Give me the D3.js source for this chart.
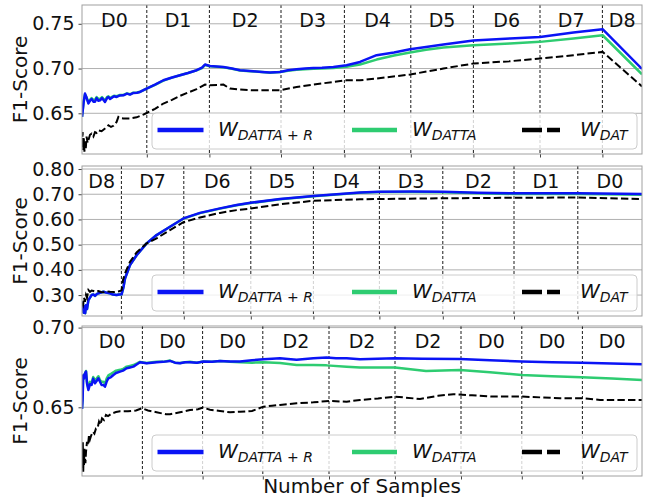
<!DOCTYPE html>
<html>
<head>
<meta charset="utf-8">
<script src="https://cdn.jsdelivr.net/npm/d3@7"></script>
<style>
  body { margin: 0; background: #fff; }
  svg text { font-family: "DejaVu Sans", sans-serif; }
</style>
</head>
<body>
<script>
// ---- data (x = number of samples, y = F1-score) ----
var p1Bounds = [324, 637, 995, 1312, 1644, 1957, 2290, 2602];
var p1Labels = ["D0", "D1", "D2", "D3", "D4", "D5", "D6", "D7", "D8"];
var p1Ticks = [0.65, 0.70, 0.75];
var p1Blue = [[0,0.646],[8,0.662],[15,0.672],[22,0.668],[32,0.661],[40,0.664],[48,0.666],[57,0.663],[65,0.663],[73,0.667],[82,0.664],[90,0.6645],[100,0.667],[115,0.6627],[125,0.667],[132,0.6682],[140,0.666],[148,0.6672],[160,0.669],[173,0.6682],[190,0.670],[207,0.6701],[225,0.672],[240,0.6709],[257,0.6727],[275,0.673],[290,0.6738],[305,0.6755],[323,0.6776],[365,0.682],[407,0.6869],[450,0.690],[490,0.6925],[530,0.695],[573,0.6981],[600,0.701],[615,0.7045],[640,0.7029],[707,0.7018],[750,0.700],[790,0.698],[857,0.697],[900,0.6962],[940,0.6955],[990,0.6962],[1030,0.698],[1073,0.6992],[1115,0.700],[1157,0.7007],[1200,0.701],[1257,0.7018],[1323,0.7037],[1390,0.7074],[1473,0.7149],[1560,0.718],[1640,0.7216],[1720,0.724],[1807,0.7268],[1957,0.7313],[2140,0.7336],[2290,0.7353],[2457,0.7403],[2603,0.7440],[2800,0.6995]];
var p1Green = [[0,0.646],[8,0.663],[15,0.671],[22,0.668],[32,0.662],[40,0.665],[48,0.667],[57,0.665],[65,0.665],[73,0.668],[82,0.666],[90,0.666],[100,0.668],[115,0.664],[125,0.668],[132,0.669],[140,0.667],[148,0.668],[160,0.6695],[173,0.669],[190,0.6705],[207,0.6705],[225,0.6722],[240,0.6712],[257,0.673],[275,0.6732],[290,0.674],[305,0.6755],[323,0.6775],[365,0.6818],[407,0.6865],[450,0.6898],[490,0.6925],[530,0.695],[573,0.698],[600,0.7005],[615,0.704],[640,0.7025],[707,0.7015],[750,0.6998],[790,0.6978],[857,0.6968],[900,0.696],[940,0.6952],[990,0.696],[1030,0.6975],[1073,0.6985],[1115,0.6993],[1157,0.6998],[1200,0.700],[1257,0.7005],[1323,0.702],[1390,0.7045],[1473,0.710],[1560,0.7145],[1640,0.7179],[1720,0.721],[1807,0.7235],[1957,0.726],[2140,0.728],[2290,0.7298],[2457,0.7335],[2603,0.7372],[2800,0.6935]];
var p1Black = [[0,0.612],[3,0.629],[6,0.609],[9,0.622],[12,0.607],[15,0.618],[19,0.611],[23,0.624],[28,0.617],[32,0.620],[40,0.626],[48,0.6273],[57,0.624],[65,0.629],[73,0.628],[82,0.631],[98,0.630],[115,0.6329],[125,0.635],[132,0.6366],[145,0.6347],[157,0.636],[173,0.6403],[182,0.6459],[195,0.6445],[207,0.6441],[240,0.6441],[273,0.6455],[307,0.6485],[323,0.6503],[365,0.655],[407,0.6609],[450,0.665],[490,0.6694],[530,0.6732],[573,0.6769],[615,0.6821],[640,0.6813],[707,0.6821],[740,0.6776],[790,0.6765],[857,0.6757],[940,0.6757],[990,0.6757],[1073,0.6794],[1157,0.6821],[1257,0.685],[1323,0.6869],[1390,0.6869],[1473,0.6888],[1640,0.6933],[1807,0.700],[1957,0.7056],[2140,0.7082],[2290,0.7112],[2457,0.7149],[2603,0.7186],[2800,0.680]];

var p2Bounds = [197, 509, 844, 1157, 1487, 1804, 2160, 2479];
var p2Labels = ["D8", "D7", "D6", "D5", "D4", "D3", "D2", "D1", "D0"];
var p2Ticks = [0.30, 0.40, 0.50, 0.60, 0.70, 0.80];
var p2Blue = [[0,0.24],[4,0.27],[8,0.23],[12,0.255],[16,0.228],[20,0.26],[25,0.245],[32,0.28],[40,0.29],[48,0.30],[57,0.302],[65,0.297],[75,0.305],[82,0.307],[95,0.31],[107,0.313],[120,0.31],[140,0.3067],[155,0.302],[173,0.300],[185,0.302],[198,0.303],[207,0.33],[215,0.366],[240,0.419],[273,0.458],[323,0.505],[373,0.538],[440,0.571],[507,0.604],[590,0.626],[690,0.644],[773,0.657],[843,0.666],[990,0.681],[1157,0.693],[1390,0.707],[1487,0.710],[1650,0.711],[1804,0.710],[1980,0.706],[2160,0.7035],[2320,0.704],[2479,0.704],[2800,0.701]];
var p2Green = [[0,0.24],[4,0.27],[8,0.23],[12,0.255],[16,0.228],[20,0.26],[25,0.245],[32,0.28],[40,0.29],[48,0.30],[57,0.302],[65,0.297],[75,0.305],[82,0.307],[95,0.31],[107,0.313],[120,0.31],[140,0.3067],[155,0.302],[173,0.300],[185,0.302],[198,0.303],[207,0.33],[215,0.366],[240,0.419],[273,0.458],[323,0.505],[373,0.538],[440,0.571],[507,0.603],[590,0.625],[690,0.643],[773,0.656],[843,0.665],[990,0.680],[1157,0.692],[1390,0.706],[1487,0.709],[1650,0.709],[1804,0.708],[1980,0.704],[2160,0.701],[2320,0.701],[2479,0.701],[2800,0.698]];
var p2Black = [[0,0.27],[5,0.26],[10,0.29],[15,0.273],[20,0.30],[25,0.29],[32,0.32],[40,0.313],[48,0.318],[57,0.316],[65,0.313],[82,0.316],[95,0.312],[107,0.311],[125,0.315],[140,0.313],[160,0.312],[173,0.313],[190,0.316],[198,0.320],[205,0.36],[215,0.386],[240,0.432],[273,0.469],[323,0.505],[373,0.525],[440,0.558],[507,0.589],[590,0.608],[690,0.626],[773,0.637],[843,0.643],[990,0.66],[1157,0.674],[1390,0.680],[1487,0.681],[1804,0.684],[2160,0.686],[2479,0.687],[2800,0.681]];

var p3Bounds = [302, 603, 904, 1235, 1565, 1895, 2199, 2502];
var p3Labels = ["D0", "D0", "D0", "D2", "D2", "D2", "D0", "D0", "D0"];
var p3Ticks = [0.65, 0.70];
var p3Blue = [[0,0.649],[3,0.655],[6,0.670],[10,0.6682],[14,0.671],[20,0.6724],[25,0.665],[32,0.6609],[40,0.6645],[48,0.664],[56,0.668],[65,0.6651],[73,0.6665],[82,0.6682],[90,0.666],[98,0.664],[107,0.664],[115,0.6629],[123,0.666],[132,0.6682],[145,0.669],[157,0.6703],[170,0.6715],[190,0.6724],[205,0.673],[223,0.6745],[240,0.675],[257,0.6755],[275,0.677],[290,0.6783],[323,0.6776],[350,0.678],[373,0.6783],[405,0.6785],[440,0.6791],[465,0.678],[490,0.6776],[515,0.6783],[540,0.6783],[575,0.678],[607,0.6787],[650,0.6785],[690,0.6791],[740,0.6787],[790,0.6787],[850,0.6795],[907,0.6801],[950,0.6805],[990,0.6808],[1030,0.6803],[1073,0.6798],[1115,0.6803],[1157,0.6808],[1223,0.6812],[1270,0.6808],[1323,0.6808],[1390,0.6801],[1565,0.6808],[1700,0.6805],[1890,0.6803],[2040,0.6795],[2198,0.6787],[2350,0.6783],[2498,0.678],[2650,0.6775],[2800,0.677]];
var p3Green = [[0,0.649],[3,0.656],[6,0.670],[10,0.668],[14,0.671],[20,0.6728],[25,0.666],[32,0.662],[40,0.666],[48,0.665],[56,0.669],[65,0.667],[73,0.668],[82,0.6695],[90,0.667],[98,0.666],[107,0.666],[115,0.665],[123,0.668],[132,0.670],[145,0.671],[157,0.672],[170,0.673],[190,0.6735],[205,0.674],[223,0.6755],[240,0.676],[257,0.6765],[275,0.6775],[290,0.6785],[323,0.6778],[350,0.6782],[373,0.6785],[405,0.6785],[440,0.6793],[465,0.678],[490,0.6778],[515,0.6783],[540,0.6785],[575,0.678],[607,0.6787],[650,0.6785],[690,0.679],[740,0.6785],[790,0.6782],[850,0.678],[907,0.6783],[990,0.6778],[1073,0.6766],[1157,0.6765],[1223,0.6763],[1323,0.6755],[1390,0.6749],[1565,0.6749],[1720,0.6728],[1890,0.6734],[2040,0.672],[2198,0.6703],[2350,0.6695],[2498,0.6688],[2650,0.668],[2800,0.6671]];
var p3Black = [[0,0.623],[2,0.612],[4,0.628],[6,0.609],[8,0.620],[10,0.6138],[12,0.624],[14,0.62],[17,0.615],[20,0.622],[25,0.6284],[30,0.626],[35,0.6326],[40,0.630],[45,0.632],[50,0.6335],[55,0.6347],[62,0.6335],[70,0.6368],[78,0.637],[85,0.641],[92,0.639],[100,0.6431],[110,0.642],[120,0.6452],[130,0.6445],[150,0.6462],[170,0.647],[190,0.6475],[230,0.6475],[270,0.648],[300,0.6494],[330,0.648],[373,0.6469],[420,0.6456],[440,0.6456],[490,0.6469],[540,0.6483],[580,0.6488],[605,0.6498],[640,0.6485],[690,0.6477],[740,0.6469],[790,0.6472],[850,0.6477],[907,0.6504],[950,0.651],[990,0.6515],[1073,0.6525],[1157,0.6531],[1235,0.654],[1323,0.6535],[1390,0.6546],[1480,0.6555],[1565,0.6567],[1690,0.6552],[1780,0.6572],[1857,0.6582],[1950,0.6575],[2057,0.6567],[2200,0.6567],[2390,0.6557],[2500,0.6557],[2590,0.6546],[2800,0.6546]];

var maxSamples = 2800;

// ---- layout ----
var width = 651, height = 498;
var left = 82, right = 642;
var panels = [
  { top: 5,   bottom: 154, yDomain: [0.6045, 0.771], ticks: p1Ticks, bounds: p1Bounds, labels: p1Labels, blue: p1Blue, green: p1Green, black: p1Black },
  { top: 166, bottom: 316, yDomain: [0.217, 0.812],  ticks: p2Ticks, bounds: p2Bounds, labels: p2Labels, blue: p2Blue, green: p2Green, black: p2Black },
  { top: 326, bottom: 476, yDomain: [0.6069, 0.701], ticks: p3Ticks, bounds: p3Bounds, labels: p3Labels, blue: p3Blue, green: p3Green, black: p3Black }
];

var svg = d3.select("body").append("svg")
  .attr("width", width)
  .attr("height", height);

var x = d3.scaleLinear().domain([0, maxSamples]).range([left, right]);

panels.forEach(function (p, i) {
  var y = d3.scaleLinear().domain(p.yDomain).range([p.bottom, p.top]);
  var g = svg.append("g");

  var clipId = "clip" + i;
  svg.append("clipPath").attr("id", clipId)
    .append("rect")
    .attr("x", left).attr("y", p.top)
    .attr("width", right - left).attr("height", p.bottom - p.top);

  // horizontal grid
  g.selectAll(".grid")
    .data(p.ticks)
    .enter().append("line")
    .attr("x1", left).attr("x2", right)
    .attr("y1", function (d) { return y(d); })
    .attr("y2", function (d) { return y(d); })
    .attr("stroke", "#b0b0b0")
    .attr("stroke-width", 1);

  // task boundaries
  g.selectAll(".bound")
    .data(p.bounds)
    .enter().append("line")
    .attr("x1", function (d) { return x(d); })
    .attr("x2", function (d) { return x(d); })
    .attr("y1", p.top).attr("y2", p.bottom)
    .attr("stroke", "#000")
    .attr("stroke-width", 0.9)
    .attr("stroke-dasharray", "3,2");

  // region labels
  var edges = [0].concat(p.bounds).concat([maxSamples]);
  g.selectAll(".dlabel")
    .data(p.labels)
    .enter().append("text")
    .attr("x", function (d, j) { return (x(edges[j]) + x(edges[j + 1])) / 2; })
    .attr("y", p.top + 21.5)
    .attr("text-anchor", "middle")
    .attr("font-size", 19)
    .attr("fill", "#111")
    .text(function (d) { return d; });

  // lines
  var line = d3.line()
    .x(function (d) { return x(d[0]); })
    .y(function (d) { return y(d[1]); });

  var lines = g.append("g").attr("clip-path", "url(#" + clipId + ")");
  lines.append("path").datum(p.green)
    .attr("d", line).attr("fill", "none")
    .attr("stroke", "#2ecc71").attr("stroke-width", 2.5)
    .attr("stroke-linejoin", "round");
  lines.append("path").datum(p.blue)
    .attr("d", line).attr("fill", "none")
    .attr("stroke", "#0a14f5").attr("stroke-width", 2.5)
    .attr("stroke-linejoin", "round");
  lines.append("path").datum(p.black)
    .attr("d", line).attr("fill", "none")
    .attr("stroke", "#000").attr("stroke-width", 2)
    .attr("stroke-dasharray", "7.4,3.2");

  // axes
  var yAxis = g.append("g")
    .attr("transform", "translate(" + left + ",0)")
    .call(d3.axisLeft(y).tickValues(p.ticks).tickFormat(d3.format(".2f")).tickSize(3.5).tickPadding(4));
  yAxis.select(".domain").remove();
  yAxis.selectAll(".tick line").attr("stroke", "#444");
  yAxis.selectAll(".tick text")
    .attr("font-size", 19)
    .attr("font-family", "DejaVu Sans")
    .attr("fill", "#111");

  var xAxis = g.append("g")
    .attr("transform", "translate(0," + p.bottom + ")")
    .call(d3.axisBottom(x).tickValues(p.bounds).tickFormat("").tickSize(3.5));
  xAxis.select(".domain").remove();
  xAxis.selectAll(".tick line").attr("stroke", "#444");

  // legend
  var lg = g.append("g")
    .attr("transform", "translate(" + (right - 490) + "," + (p.bottom - 41) + ")");
  lg.append("rect")
    .attr("width", 485).attr("height", 36)
    .attr("rx", 4).attr("ry", 4)
    .attr("fill", "#fff").attr("fill-opacity", 0.8)
    .attr("stroke", "#cccccc").attr("stroke-width", 1);

  var items = [
    { x: 5.5, len: 46, tx: 66, color: "#0a14f5", dash: null, sub: ["DATTA", " + ", "R"] },
    { x: 200, len: 45, tx: 260, color: "#2ecc71", dash: null, sub: ["DATTA"] },
    { x: 370, len: 38, tx: 428, color: "#000", dash: "20,5", sub: ["DAT"] }
  ];
  items.forEach(function (it) {
    lg.append("line")
      .attr("x1", it.x).attr("x2", it.x + it.len)
      .attr("y1", 17).attr("y2", 17)
      .attr("stroke", it.color).attr("stroke-width", 4.5)
      .attr("stroke-dasharray", it.dash);
    var t = lg.append("text")
      .attr("x", it.tx)
      .attr("y", 23)
      .attr("fill", "#111");
    t.append("tspan").attr("font-size", 20).attr("font-style", "italic").text("W");
    it.sub.forEach(function (s, k) {
      var ts = t.append("tspan")
        .attr("font-size", 14)
        .attr("font-style", s.trim() === "+" ? "normal" : "italic")
        .style("white-space", "pre")
        .text(s);
      if (k === 0) ts.attr("dy", 4);
    });
  });

  // frame
  g.append("rect")
    .attr("x", left).attr("y", p.top)
    .attr("width", right - left).attr("height", p.bottom - p.top)
    .attr("fill", "none")
    .attr("stroke", "#a0a0a0").attr("stroke-width", 1);

  // y label
  g.append("text")
    .attr("transform", "translate(27," + ((p.top + p.bottom) / 2) + ") rotate(-90)")
    .attr("text-anchor", "middle")
    .attr("font-size", 20)
    .attr("fill", "#111")
    .text("F1-Score");
});

svg.append("text")
  .attr("x", (left + right) / 2)
  .attr("y", 492.5)
  .attr("text-anchor", "middle")
  .attr("font-size", 20)
  .attr("fill", "#111")
  .text("Number of Samples");
</script>
</body>
</html>
